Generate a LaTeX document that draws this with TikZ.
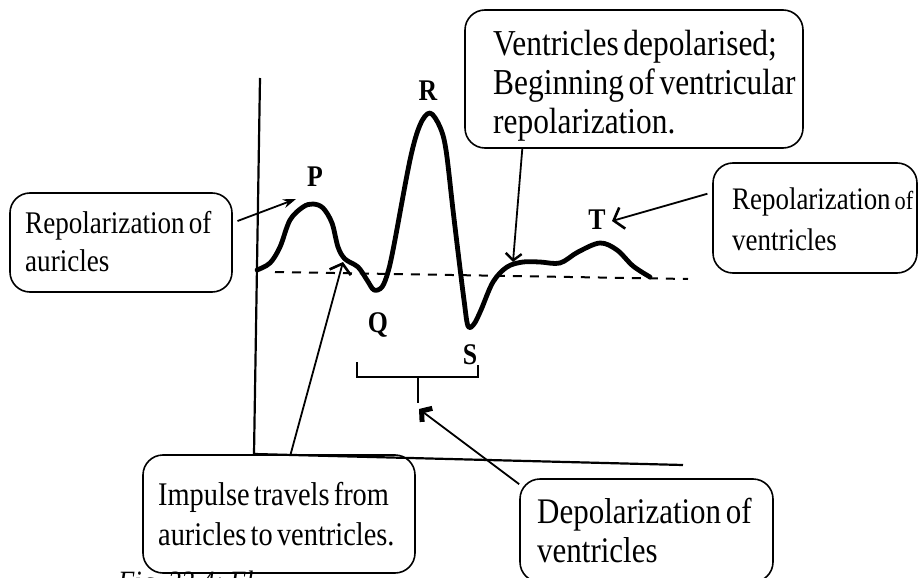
\documentclass[tikz,border=0pt]{standalone}
\usepackage{fontspec}
\setmainfont{Liberation Serif}[FakeStretch=0.86, WordSpace=0.6]
\usetikzlibrary{arrows.meta}
\begin{document}
\begin{tikzpicture}[x=1pt,y=-1pt,
  box/.style={draw, line width=1.6pt, rounded corners=20pt, inner sep=0pt},
  txt/.style={anchor=north west, align=left, inner sep=0pt},
  lbl/.style={font=\fontsize{30}{30}\selectfont\bfseries, inner sep=0pt},
  wave/.style={line width=4.8pt, line cap=round, line join=round},
  axisline/.style={line width=2.2pt},
  lead/.style={line width=1.8pt},
  chev/.style={-{Straight Barb[length=9pt,width=22pt,line width=2.6pt]}},
  smallchev/.style={-{Straight Barb[length=7pt,width=16pt,line width=2.4pt]}},
  fatchev/.style={-{Straight Barb[length=7pt,width=17pt,line width=5pt]}},
]
\useasboundingbox (0,0) rectangle (919,578);
\fill[white] (0,0) rectangle (919,578);

% axes
\draw[axisline] (260,78) -- (254,454) -- (683,465);

% baseline
\draw[line width=2pt, dash pattern=on 9pt off 8pt] (275,272) -- (688,279);

% ECG wave
\draw[wave] plot[smooth, tension=0.55] coordinates {
 (257,270) (270,263) (280,247) (290,220) (303,207) (313,204) (323,208)
 (332,223) (338,247) (345,259) (358,267) (367,280) (374,290) (382,287)
 (388,272) (394,245) (410,160) (420,125) (430,113) (440,127) (446,150)
 (453,210) (459,260) (464,300) (468,326) (474,324) (481,310) (493,282)
 (507,267) (523,262) (540,262) (560,263) (578,252) (600,243) (617,250)
 (633,266) (650,277)};

% wave labels
\node[lbl] (P) at (315,177) {P};
\node[lbl] (R) at (428,91) {R};
\node[lbl] (Q) at (378,325) {Q};
\node[lbl] (S) at (470,355) {S};
\node[lbl] (T) at (597,220) {T};

% QRS bracket
\coordinate (brL) at (357,362);
\coordinate (brR) at (478,365);
\coordinate (brM) at (418,377);
\coordinate (brTick) at (418,403);
\draw[line width=1.6pt] (brL) |- (brR |- brM) -- (brR);
\draw[line width=1.6pt] (brM) -- (brTick);

% boxes
\node[box, minimum width=222pt, minimum height=99pt] (lb) at (121,242.5) {};
\node[txt, font=\fontsize{31.5}{38}\selectfont] (lbt) at (25,211.5) {Repolarization of\\auricles};

\node[box, minimum width=338pt, minimum height=138pt] (tb) at (634,79) {};
\node[txt, font=\fontsize{36.5}{39}\selectfont] (tbt) at (493,30) {Ventricles depolarised;\\Beginning of ventricular\\repolarization.};

\node[box, minimum width=204pt, minimum height=110pt] (rb) at (815,218) {};
\node[txt, font=\fontsize{31.3}{41}\selectfont] (rbt) at (732,187.5) {Repolarization {\fontsize{26}{26}\selectfont of}\\ventricles};

\node[box, minimum width=272pt, minimum height=118pt] (ib) at (279,514) {};
\node[txt, font=\fontsize{33}{40}\selectfont] (ibt) at (158,482.5) {Impulse travels from\\auricles to ventricles.};

\begin{scope}
\clip (0,0) rectangle (919,578);
\node[box, minimum width=253pt, minimum height=103pt] (db) at (646.5,530.5) {};
\node[txt, anchor=base west, font=\fontsize{31}{31}\selectfont\itshape] (cap) at (118,592) {Fig. 33.4: El};
\end{scope}
\node[txt, font=\fontsize{36}{39}\selectfont] (dbt) at (537,498) {Depolarization of\\ventricles};

% arrow tips
\coordinate (pTip) at (296,199);
\coordinate (bumpTip) at (343,262);
\coordinate (stTip) at (513,262);
\coordinate (tTip) at (612,221);
\coordinate (qrsTip) at (419,409);

% connectors
\draw[lead, -{Stealth[length=13pt,width=9pt]}, shorten <=5pt] (lb.10) -- (pTip);
\draw[lead, chev] (ib.79) -- (bumpTip);
\draw[lead, smallchev] (tb.212) -- (stTip);
\draw[lead, chev, shorten <=5pt] (rb.166) -- (tTip);
\draw[lead, fatchev] (db.160) -- (qrsTip);
\end{tikzpicture}
\end{document}
